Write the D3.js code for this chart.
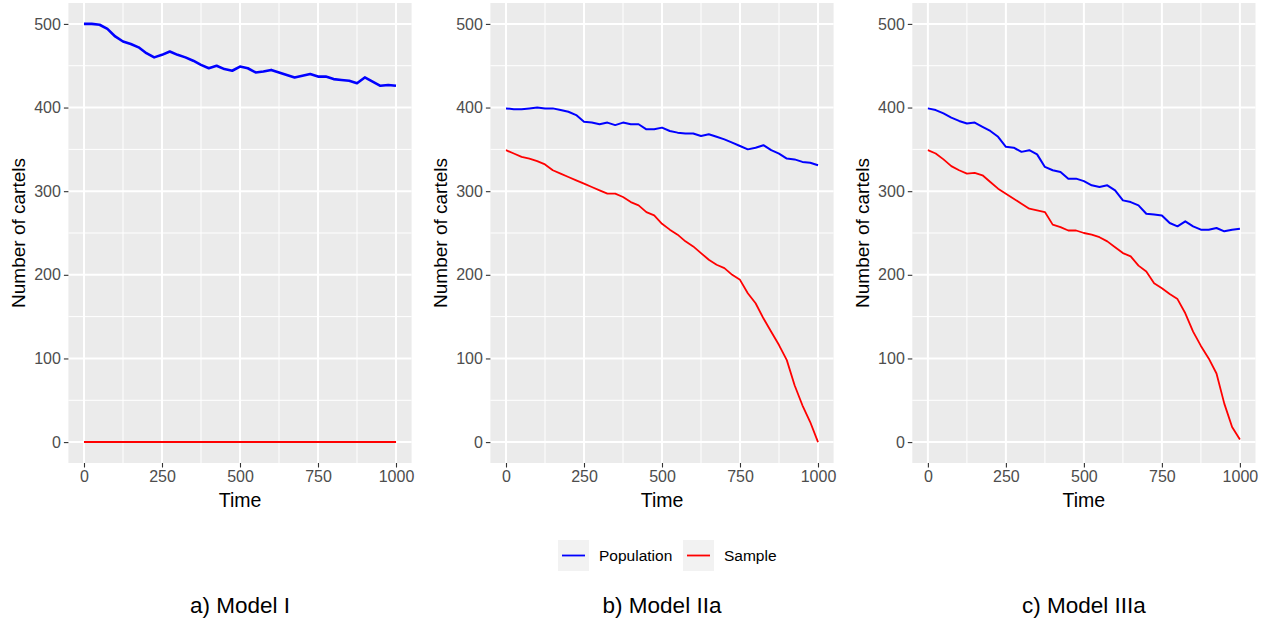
<!DOCTYPE html>
<html>
<head>
<meta charset="utf-8">
<title>Number of cartels</title>
<script src="https://cdn.jsdelivr.net/npm/d3@7"></script>
<style>
  body { margin: 0; background: #fff; }
  text { font-family: "Liberation Sans", Arial, sans-serif; }
</style>
</head>
<body>
<script>
// values, every 25 time steps
var time = [0, 25, 50, 75, 100, 125, 150, 175, 200, 225, 250, 275, 300, 325, 350, 375, 400, 425, 450, 475,
            500, 525, 550, 575, 600, 625, 650, 675, 700, 725, 750, 775, 800, 825, 850, 875, 900, 925, 950, 975, 1000];

var popModelI = [500, 500, 499, 494, 485, 479, 476, 472, 465, 460, 463, 467, 463, 460, 456, 451, 447, 450, 446, 444,
                 449, 447, 442, 443, 445, 442, 439, 436, 438, 440, 437, 437, 434, 433, 432, 429, 436, 431, 426, 427, 426];
var sampleModelI = [0, 0, 0, 0, 0, 0, 0, 0, 0, 0, 0, 0, 0, 0, 0, 0, 0, 0, 0, 0,
                    0, 0, 0, 0, 0, 0, 0, 0, 0, 0, 0, 0, 0, 0, 0, 0, 0, 0, 0, 0, 0];

var popModelIIa = [399, 398, 398, 399, 400, 399, 399, 397, 395, 391, 383, 382, 380, 382, 379, 382, 380, 380, 374, 374,
                   376, 372, 370, 369, 369, 366, 368, 365, 362, 358, 354, 350, 352, 355, 349, 345, 339, 338, 335, 334, 331];
var sampleModelIIa = [349, 345, 341, 339, 336, 332, 325, 321, 317, 313, 309, 305, 301, 297, 297, 293, 287, 283, 275, 271,
                      261, 254, 248, 240, 234, 226, 218, 212, 208, 200, 194, 178, 166, 148, 132, 116, 98, 68, 44, 24, 0];

var popModelIIIa = [399, 397, 393, 388, 384, 381, 382, 377, 372, 365, 353, 352, 347, 349, 344, 329, 325, 323, 315, 315,
                    312, 307, 305, 307, 301, 289, 287, 283, 273, 272, 271, 262, 258, 264, 258, 254, 254, 256, 252, 254, 255];
var sampleModelIIIa = [349, 345, 338, 330, 325, 321, 322, 319, 311, 303, 297, 291, 285, 279, 277, 275, 260, 257, 253, 253,
                       250, 248, 245, 240, 233, 226, 222, 211, 204, 190, 184, 177, 171, 154, 132, 115, 100, 82, 46, 18, 3];

var captions = ['a) Model I', 'b) Model IIa', 'c) Model IIIa'];
var seriesNames = ['Population', 'Sample'];
var seriesColors = ['#0000ff', '#ff0000'];

var yTicks = [0, 100, 200, 300, 400, 500];
var yMinor = [50, 150, 250, 350, 450];
var xTicks = [0, 250, 500, 750, 1000];
var xMinor = [125, 375, 625, 875];

var panels = [
  { caption: captions[0], series: [popModelI, sampleModelI], widths: [2.6, 2] },
  { caption: captions[1], series: [popModelIIa, sampleModelIIa], widths: [2, 1.8] },
  { caption: captions[2], series: [popModelIIIa, sampleModelIIIa], widths: [2, 1.8] }
];

var svg = d3.select('body').append('svg').attr('width', 1273).attr('height', 621);

var panelLeft = [68.4, 490.4, 912.3];
var panelWidth = 343.2;
var panelTop = 3, panelBottom = 463;

var y = d3.scaleLinear().domain([-25, 525]).range([panelBottom, panelTop]);

panels.forEach(function (p, i) {
  var x = d3.scaleLinear().domain([-50, 1050]).range([panelLeft[i], panelLeft[i] + panelWidth]);
  var g = svg.append('g');

  g.append('rect')
    .attr('x', panelLeft[i]).attr('y', panelTop)
    .attr('width', panelWidth).attr('height', panelBottom - panelTop)
    .attr('fill', '#ebebeb');

  // minor grid
  g.selectAll('.ymin').data(yMinor).enter().append('line')
    .attr('x1', panelLeft[i]).attr('x2', panelLeft[i] + panelWidth)
    .attr('y1', function (d) { return y(d); }).attr('y2', function (d) { return y(d); })
    .attr('stroke', '#fff').attr('stroke-width', 1);
  g.selectAll('.xmin').data(xMinor).enter().append('line')
    .attr('y1', panelTop).attr('y2', panelBottom)
    .attr('x1', function (d) { return x(d); }).attr('x2', function (d) { return x(d); })
    .attr('stroke', '#fff').attr('stroke-width', 1);

  // major grid
  g.selectAll('.ymaj').data(yTicks).enter().append('line')
    .attr('x1', panelLeft[i]).attr('x2', panelLeft[i] + panelWidth)
    .attr('y1', function (d) { return y(d); }).attr('y2', function (d) { return y(d); })
    .attr('stroke', '#fff').attr('stroke-width', 2);
  g.selectAll('.xmaj').data(xTicks).enter().append('line')
    .attr('y1', panelTop).attr('y2', panelBottom)
    .attr('x1', function (d) { return x(d); }).attr('x2', function (d) { return x(d); })
    .attr('stroke', '#fff').attr('stroke-width', 2);

  // axes
  var ya = g.append('g').attr('transform', 'translate(' + panelLeft[i] + ',0)')
    .call(d3.axisLeft(y).tickValues(yTicks).tickFormat(d3.format('d')).tickSize(4.5).tickPadding(3));
  var xa = g.append('g').attr('transform', 'translate(0,' + panelBottom + ')')
    .call(d3.axisBottom(x).tickValues(xTicks).tickFormat(d3.format('d')).tickSize(4.5).tickPadding(3));
  [ya, xa].forEach(function (a) {
    a.select('.domain').remove();
    a.selectAll('line').attr('stroke', '#333').attr('stroke-width', 1.1);
    a.selectAll('text').attr('fill', '#4d4d4d').style('font-size', '16px')
      .style('font-family', '"Liberation Sans", Arial, sans-serif');
  });

  g.append('text')
    .attr('transform', 'translate(' + (panelLeft[i] + panelWidth / 2) + ',507)')
    .attr('text-anchor', 'middle').style('font-size', '19.5px').attr('fill', '#000')
    .text('Time');
  g.append('text')
    .attr('transform', 'translate(' + (panelLeft[i] - 43) + ',' + ((panelTop + panelBottom) / 2) + ') rotate(-90)')
    .attr('text-anchor', 'middle').style('font-size', '19px').attr('fill', '#000')
    .text('Number of cartels');

  // lines
  p.series.forEach(function (vals, k) {
    var line = d3.line()
      .x(function (d, j) { return x(time[j]); })
      .y(function (d) { return y(d); });
    g.append('path').datum(vals)
      .attr('d', line)
      .attr('fill', 'none')
      .attr('stroke', seriesColors[k])
      .attr('stroke-width', p.widths[k])
      .attr('stroke-linejoin', 'round');
  });

  svg.append('text')
    .attr('x', panelLeft[i] + panelWidth / 2).attr('y', 613)
    .attr('text-anchor', 'middle').style('font-size', '22.5px').attr('fill', '#000')
    .text(p.caption);
});

// legend
var legendX = [558, 683];
var leg = svg.append('g').selectAll('g').data(seriesNames).enter().append('g')
  .attr('transform', function (d, k) { return 'translate(' + legendX[k] + ',540)'; });
leg.append('rect').attr('width', 31).attr('height', 31).attr('fill', '#f2f2f2');
leg.append('line').attr('x1', 4).attr('x2', 27).attr('y1', 15.5).attr('y2', 15.5)
  .attr('stroke', function (d, k) { return seriesColors[k]; }).attr('stroke-width', 1.8);
leg.append('text').attr('x', 41).attr('y', 15.5).attr('dy', '0.35em')
  .style('font-size', '15.5px').attr('fill', '#000')
  .text(function (d) { return d; });
</script>
</body>
</html>
